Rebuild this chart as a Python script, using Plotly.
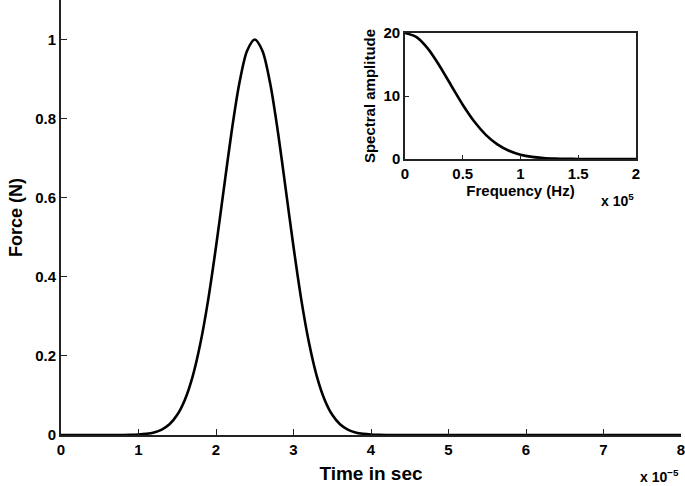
import plotly.graph_objects as go

# Main pulse (time in units of 1e-5 s)
time_vals = [0.0, 0.5, 0.8, 0.9, 1.0, 1.1, 1.2, 1.3, 1.4, 1.5, 1.6, 1.7, 1.8, 1.9,
             2.0, 2.1, 2.2, 2.3, 2.4, 2.5, 2.6, 2.7, 2.8, 2.9, 3.0, 3.1, 3.2,
             3.3, 3.4, 3.5, 3.6, 3.7, 3.8, 3.9, 4.0, 4.1, 4.2, 4.5, 5.0, 6.0, 7.0, 8.0]
force_vals = [0.0, 0.0, 0.0, 0.0003, 0.0012, 0.003, 0.0066, 0.0138, 0.027, 0.051,
              0.090, 0.149, 0.233, 0.343, 0.476, 0.621, 0.765, 0.888, 0.971, 1.0,
              0.971, 0.888, 0.765, 0.621, 0.476, 0.343, 0.233, 0.149, 0.090, 0.051,
              0.027, 0.0138, 0.0066, 0.003, 0.0012, 0.0003, 0.0, 0.0, 0.0, 0.0, 0.0, 0.0]

# Spectrum (frequency in units of 1e5 Hz)
freq_vals = [0.0, 0.1, 0.2, 0.3, 0.4, 0.5, 0.6, 0.7, 0.8, 0.9, 1.0, 1.1, 1.2,
             1.3, 1.4, 1.5, 1.6, 1.7, 1.8, 1.9, 2.0]
spec_vals = [20.0, 19.34, 17.48, 14.77, 11.67, 8.62, 5.95, 3.84, 2.32, 1.31, 0.69,
             0.34, 0.157, 0.067, 0.027, 0.010, 0.004, 0.001, 0.0, 0.0, 0.0]

main_xticks = [0, 1, 2, 3, 4, 5, 6, 7, 8]
main_yticks = [0, 0.2, 0.4, 0.6, 0.8, 1]
inset_xticks = [0, 0.5, 1, 1.5, 2]
inset_yticks = [0, 10, 20]

FONT = "Liberation Sans, Arial, Helvetica, sans-serif"

fig = go.Figure()
fig.add_trace(go.Scatter(x=time_vals, y=force_vals, mode="lines",
                         line=dict(color="black", width=2.6, shape="spline", smoothing=0.8),
                         xaxis="x", yaxis="y", showlegend=False))
fig.add_trace(go.Scatter(x=freq_vals, y=spec_vals, mode="lines",
                         line=dict(color="black", width=2.6, shape="spline", smoothing=0.8),
                         xaxis="x2", yaxis="y2", showlegend=False))

axis_common = dict(showgrid=False, zeroline=False, showline=True, linecolor="#222",
                   ticks="inside", tickcolor="#222", automargin=False,
                   ticklabeloverflow="allow",
                   tickfont=dict(family=FONT, size=15, color="black", weight="bold"))

fig.update_layout(
    width=685, height=486,
    margin=dict(l=61, r=4, t=0, b=51),
    plot_bgcolor="white", paper_bgcolor="white",
    font=dict(family=FONT, color="black"),
    xaxis=dict(**axis_common, range=[0, 8], tickvals=main_xticks, ticklen=6, linewidth=2,
               ticktext=[str(v) for v in main_xticks],
               title=dict(text="Time in sec", font=dict(family=FONT, size=19, weight="bold"),
                          standoff=10)),
    yaxis=dict(**axis_common, range=[0, 1.1], tickvals=main_yticks, ticklen=6, linewidth=2,
               ticktext=["0", "0.2", "0.4", "0.6", "0.8", "1"],
               title=dict(text="Force (N)", font=dict(family=FONT, size=18, weight="bold"),
                          standoff=8)),
    xaxis2=dict(**axis_common, range=[0, 2], tickvals=inset_xticks, ticklen=4, linewidth=1.5,
                ticktext=["0", "0.5", "1", "1.5", "2"], mirror=True,
                domain=[0.5548, 0.9274], anchor="y2",
                title=dict(text="Frequency (Hz)", font=dict(family=FONT, size=15, weight="bold"),
                           standoff=2)),
    yaxis2=dict(**axis_common, range=[0, 20], tickvals=inset_yticks, ticklen=4, linewidth=1.5,
                ticktext=["0", "10", "20"], mirror=True,
                domain=[0.6345, 0.9241], anchor="x2",
                title=dict(text="Spectral amplitude", font=dict(family=FONT, size=15, weight="bold"),
                           standoff=4)),
)

fig.add_annotation(xref="paper", yref="paper", x=1.0, y=-0.07, xanchor="right", yanchor="top",
                   text="x 10<sup>−5</sup>", showarrow=False,
                   font=dict(family=FONT, size=14, weight="bold"))
fig.add_annotation(xref="paper", yref="paper", x=0.9274, y=0.565, xanchor="right", yanchor="top",
                   text="x 10<sup>5</sup>", showarrow=False,
                   font=dict(family=FONT, size=14, weight="bold"))

fig.write_html("out.html", config={"displayModeBar": False},
               post_script="document.body.style.margin='0';document.body.style.overflow='hidden';")
